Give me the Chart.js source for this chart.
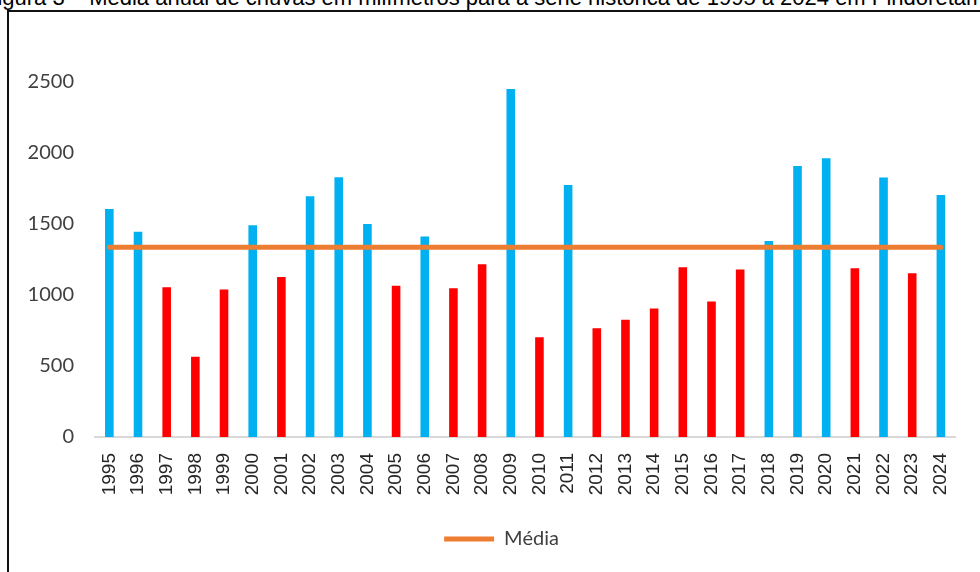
<!DOCTYPE html>
<html lang="pt-BR">
<head>
<meta charset="utf-8">
<title>Média anual de chuvas – Pindoretama</title>
<script src="https://cdn.jsdelivr.net/npm/chart.js@4.4.1/dist/chart.umd.min.js"></script>
<style>
  html, body { margin: 0; padding: 0; background: #ffffff; overflow: hidden; }
  #page { position: relative; width: 980px; height: 572px; overflow: hidden; }
  #legenda-figura {
    position: absolute; left: -16px; top: -13px;
    font-family: "Liberation Sans", Arial, sans-serif; font-size: 22px;
    line-height: 1; white-space: nowrap; color: #000;
  }
  #moldura {
    position: absolute; left: 7px; top: 10px; width: 1000px; height: 620px;
    border: 2px solid #111; pointer-events: none;
  }
  #grafico { position: absolute; left: 0; top: 0; }
</style>
</head>
<body>
<div id="page">
  <div id="legenda-figura">Figura 3 – Média anual de chuvas em milímetros para a série histórica de 1995 a 2024 em Pindoretama</div>
  <div id="moldura"></div>
  <canvas id="grafico" width="980" height="572"></canvas>
</div>
<script>
// Anos da série histórica
const anos = ['1995','1996','1997','1998','1999','2000','2001','2002','2003','2004',
              '2005','2006','2007','2008','2009','2010','2011','2012','2013','2014',
              '2015','2016','2017','2018','2019','2020','2021','2022','2023','2024'];

// Precipitação anual acumulada (mm)
const chuvaAnual = [1605, 1445, 1055, 566, 1038, 1492, 1127, 1695, 1830, 1500,
                    1065, 1412, 1048, 1217, 2450, 702, 1775, 765, 825, 905,
                    1195, 955, 1180, 1380, 1908, 1963, 1188, 1828, 1153, 1704];

// Média histórica do período (mm), repetida em cada ano para a linha de referência
const mediaHistorica = 1337;
const linhaMedia = [1337, 1337, 1337, 1337, 1337, 1337, 1337, 1337, 1337, 1337,
                    1337, 1337, 1337, 1337, 1337, 1337, 1337, 1337, 1337, 1337,
                    1337, 1337, 1337, 1337, 1337, 1337, 1337, 1337, 1337, 1337];

// Ticks do eixo vertical
const ticksY = [0, 500, 1000, 1500, 2000, 2500];

const AZUL = '#00B0F0';
const VERMELHO = '#FF0000';
const LARANJA = '#ED7D31';

// Centraliza a legenda sob o gráfico deslocando-a um pouco para a direita
const deslocaLegenda = {
  id: 'deslocaLegenda',
  afterLayout(chart) {
    const lg = chart.legend;
    if (lg) { lg.left += 21; lg.right += 21; }
  }
};

new Chart(document.getElementById('grafico'), {
  data: {
    labels: anos,
    datasets: [
      {
        type: 'line',
        label: 'Média',
        data: linhaMedia,
        borderColor: LARANJA,
        backgroundColor: LARANJA,
        borderWidth: 5,
        borderCapStyle: 'round',
        pointRadius: 0,
        pointHoverRadius: 0,
        fill: false,
        order: 0
      },
      {
        type: 'bar',
        label: 'Chuva anual (mm)',
        data: chuvaAnual,
        // acima da média em azul, abaixo em vermelho
        backgroundColor: ctx => (ctx.raw > mediaHistorica ? AZUL : VERMELHO),
        borderWidth: 0,
        categoryPercentage: 1,
        barPercentage: 0.3,
        order: 1
      }
    ]
  },
  plugins: [deslocaLegenda],
  options: {
    responsive: false,
    animation: false,
    devicePixelRatio: 1,
    layout: { padding: { left: 0, right: 19, top: 82, bottom: 13 } },
    plugins: {
      tooltip: { enabled: false },
      legend: {
        position: 'bottom',
        labels: {
          filter: item => item.text === 'Média',
          usePointStyle: true,
          pointStyle: 'line',
          pointStyleWidth: 50,
          padding: 10,
          color: '#404040',
          font: { family: 'Lato, "Open Sans", sans-serif', size: 20 }
        }
      }
    },
    scales: {
      x: {
        type: 'category',
        offset: true,
        grid: { display: false, drawTicks: false },
        border: { display: true, color: '#D9D9D9', width: 2 },
        ticks: {
          autoSkip: false,
          minRotation: 90,
          maxRotation: 90,
          padding: 16,
          color: '#262626',
          font: { family: '"Liberation Sans", Arial, sans-serif', size: 19 }
        },
        afterFit: scale => { scale.height = 82; }
      },
      y: {
        min: ticksY[0],
        max: ticksY[ticksY.length - 1],
        grid: { display: false, drawTicks: false },
        border: { display: false },
        afterBuildTicks: scale => { scale.ticks = ticksY.map(v => ({ value: v })); },
        afterFit: scale => { scale.width = 95; },
        ticks: {
          padding: 21,
          color: '#404040',
          font: { family: 'Lato, "Open Sans", sans-serif', size: 20 },
          callback: value => String(value)
        }
      }
    }
  }
});
</script>
</body>
</html>
